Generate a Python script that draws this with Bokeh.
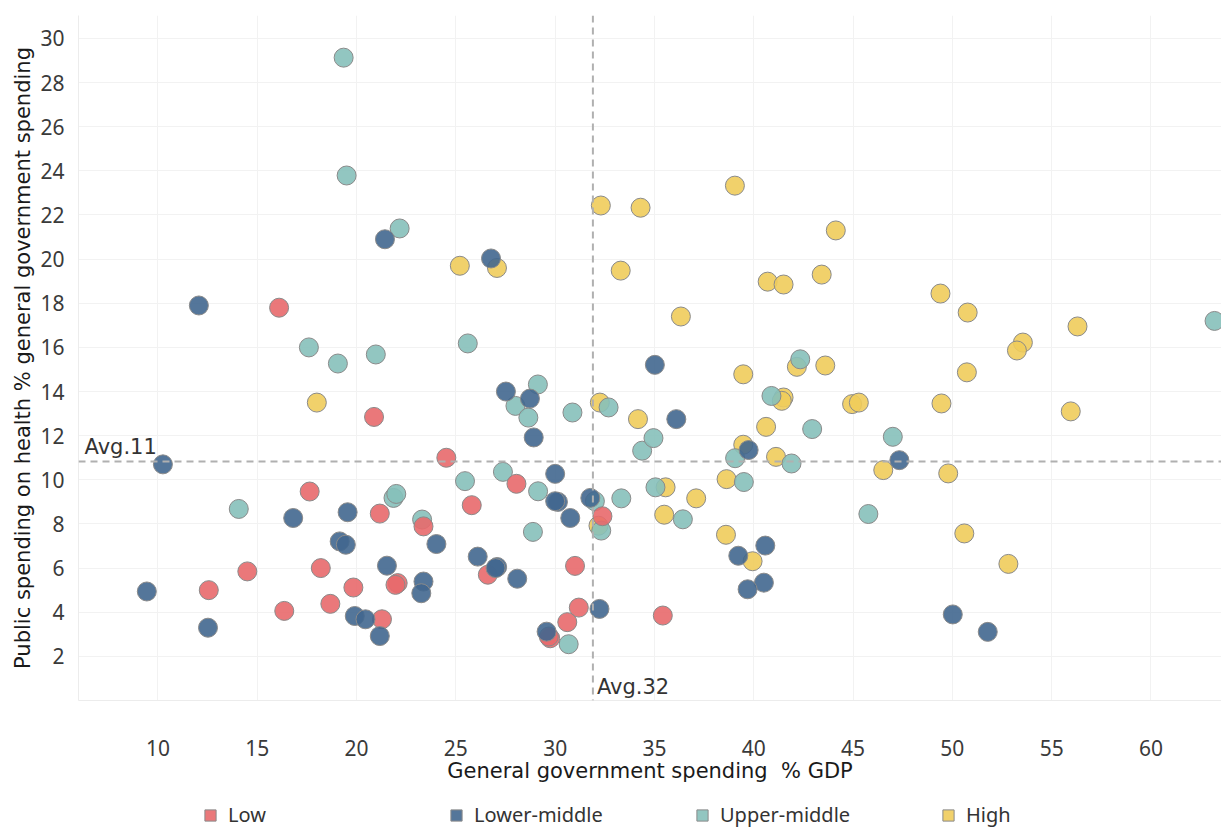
from bokeh.plotting import figure
from bokeh.models import ColumnDataSource, Span, Label, Legend, LegendItem, FixedTicker, Range1d
from bokeh.layouts import column
from bokeh.embed import file_html
from bokeh.resources import INLINE

categories = ["Low", "Lower-middle", "Upper-middle", "High"]
colors = ["#E8696B", "#41678F", "#86C0BA", "#EFCC5B"]

low_x = [16.1, 20.88, 24.52, 17.64, 28.05, 21.17, 23.37, 25.8, 18.2, 14.5, 12.56, 19.84, 22.07, 21.96,
         16.36, 18.68, 21.28, 26.61, 31.0, 32.38, 31.19, 30.61, 29.75, 29.68, 35.42]
low_y = [17.8, 12.85, 11.0, 9.47, 9.82, 8.47, 7.89, 8.85, 6.0, 5.85, 5.0, 5.12, 5.32, 5.24,
         4.06, 4.38, 3.68, 5.7, 6.1, 8.35, 4.21, 3.55, 2.82, 2.9, 3.85]

lm_x = [12.06, 21.43, 26.77, 27.52, 28.73, 28.92, 35.02, 36.1, 10.25, 9.44, 12.52, 16.81, 19.55, 19.15,
        19.46, 24.02, 21.53, 23.37, 23.26, 19.91, 20.45, 21.17, 26.1, 27.08, 27.0, 28.09, 30.0, 30.14,
        30.0, 30.76, 31.77, 32.23, 29.57, 39.74, 47.33, 39.22, 40.58, 40.51, 39.69, 50.02, 51.78]
lm_y = [17.9, 20.9, 20.03, 14.0, 13.68, 11.92, 15.21, 12.75, 10.7, 4.94, 3.3, 8.27, 8.53, 7.21,
        7.06, 7.09, 6.11, 5.39, 4.86, 3.83, 3.68, 2.92, 6.52, 6.05, 6.0, 5.52, 10.27, 9.0,
        9.03, 8.27, 9.18, 4.15, 3.12, 11.35, 10.89, 6.56, 7.02, 5.34, 5.04, 3.9, 3.11]

um_x = [19.35, 19.5, 22.17, 17.6, 19.06, 20.97, 25.6, 29.13, 28.0, 28.65, 30.87, 32.69, 34.38, 34.95,
        42.34, 40.89, 42.94, 47.0, 39.06, 39.5, 41.9, 45.77, 36.43, 33.33, 35.05, 63.2, 32.32, 32.0,
        30.68, 28.88, 27.37, 25.46, 29.14, 14.07, 21.86, 22.0, 23.3]
um_y = [29.13, 23.79, 21.39, 16.0, 15.27, 15.68, 16.18, 14.32, 13.35, 12.82, 13.05, 13.28, 11.32, 11.89,
        15.46, 13.8, 12.3, 11.95, 10.98, 9.9, 10.74, 8.45, 8.21, 9.16, 9.66, 17.2, 7.7, 9.03,
        2.55, 7.64, 10.36, 9.94, 9.48, 8.68, 9.18, 9.36, 8.2]

hi_x = [32.3, 34.3, 33.3, 25.2, 27.07, 36.33, 39.05, 44.13, 40.7, 41.5, 43.42, 49.4, 50.77, 53.55,
        53.25, 56.3, 55.96, 50.73, 49.45, 49.79, 50.6, 52.82, 46.52, 43.6, 42.17, 39.47, 38.63, 39.47,
        41.12, 40.62, 41.5, 41.41, 44.95, 45.29, 34.17, 32.25, 35.56, 37.1, 35.49, 38.6, 39.94, 32.18, 18.0]
hi_y = [22.43, 22.33, 19.48, 19.7, 19.6, 17.4, 23.33, 21.3, 18.98, 18.85, 19.3, 18.44, 17.58, 16.22,
        15.86, 16.95, 13.1, 14.87, 13.46, 10.29, 7.57, 6.19, 10.44, 15.18, 15.12, 14.78, 10.03, 11.59,
        11.04, 12.4, 13.73, 13.58, 13.43, 13.5, 12.75, 13.5, 9.66, 9.16, 8.42, 7.51, 6.31, 7.92, 13.5]

x_ticks = [10, 15, 20, 25, 30, 35, 40, 45, 50, 55, 60]
y_ticks = [2, 4, 6, 8, 10, 12, 14, 16, 18, 20, 22, 24, 26, 28, 30]
avg_x = 31.9
avg_y = 10.83
avg_x_label = "Avg.32"
avg_y_label = "Avg.11"

TICK_FONT = "Noto Sans"
TITLE_FONT = "DejaVu Sans"

p = figure(width=1221, height=800, min_border_left=78, min_border_top=15,
           min_border_right=0, min_border_bottom=100,
           x_range=Range1d(6, 63.55), y_range=Range1d(0, 31.04),
           output_backend="svg", toolbar_location=None)
p.outline_line_color = None
p.background_fill_color = "white"

for ax in (p.xaxis[0], p.yaxis[0]):
    ax.axis_line_color = "#ececec"
    ax.major_tick_line_color = None
    ax.minor_tick_line_color = None
    ax.major_label_text_font = TICK_FONT
    ax.major_label_text_font_size = "21px"
    ax.major_label_text_color = "#3a3a3a"
    ax.axis_label_text_font = TITLE_FONT
    ax.axis_label_text_font_size = "21px"
    ax.axis_label_text_font_style = "normal"
    ax.axis_label_text_color = "#1a1a1a"

p.xaxis.ticker = FixedTicker(ticks=x_ticks)
p.yaxis.ticker = FixedTicker(ticks=y_ticks)
p.xaxis.axis_label = "General government spending\u00a0 % GDP"
p.yaxis.axis_label = "Public spending on health % general government spending"
p.xaxis.major_label_standoff = 33
p.xaxis.axis_label_standoff = 0
p.yaxis.major_label_standoff = 8
p.yaxis.axis_label_standoff = 2

p.xgrid.ticker = FixedTicker(ticks=x_ticks)
p.ygrid.ticker = FixedTicker(ticks=y_ticks)
p.xgrid.grid_line_color = "#f2f2f2"
p.ygrid.grid_line_color = "#f2f2f2"

series = [(hi_x, hi_y, 3), (um_x, um_y, 2), (low_x, low_y, 0), (lm_x, lm_y, 1)]
for xs, ys, ci in series:
    src = ColumnDataSource(dict(x=xs, y=ys))
    p.scatter("x", "y", source=src, size=19, fill_color=colors[ci], fill_alpha=0.9,
              line_color="#8a8a8a", line_width=1)

p.add_layout(Span(location=avg_x, dimension="height", line_color="#b0b0b0",
                  line_width=2, line_dash="7 5"))
p.add_layout(Span(location=avg_y, dimension="width", line_color="#b0b0b0",
                  line_width=2, line_dash="7 5"))
p.add_layout(Label(x=avg_x, y=0, x_offset=4, y_offset=2, text=avg_x_label,
                   text_font=TITLE_FONT, text_font_size="21px", text_color="#333333",
                   text_baseline="bottom"))
p.add_layout(Label(x=6, y=avg_y, x_offset=6, y_offset=3, text=avg_y_label,
                   text_font=TITLE_FONT, text_font_size="21px", text_color="#333333",
                   text_baseline="bottom"))

# legend strip below the chart
lg = figure(width=1221, height=28, min_border=0, x_range=Range1d(0, 1), y_range=Range1d(0, 1),
            output_backend="svg", toolbar_location=None)
lg.outline_line_color = None
lg.axis.visible = False
lg.grid.visible = False

items = []
for cat, col in zip(categories, colors):
    # swatch renderer kept outside the visible range; only its legend glyph shows
    r = lg.quad(left=[5], right=[6], top=[6], bottom=[5], fill_color=col, fill_alpha=0.9,
                line_color="#8a8a8a", line_width=1)
    items.append(LegendItem(label=cat, renderers=[r]))

legend = Legend(items=items, orientation="horizontal", location=(125, 0),
                glyph_width=14, glyph_height=14, label_standoff=11, label_width=214,
                spacing=7, padding=0, margin=0, border_line_color=None,
                background_fill_alpha=0,
                label_text_font=TICK_FONT, label_text_font_size="20px", label_text_color="#333333")
lg.add_layout(legend, "center")

layout = column(p, lg, spacing=0)
open("out.html", "w").write(file_html(layout, INLINE))
